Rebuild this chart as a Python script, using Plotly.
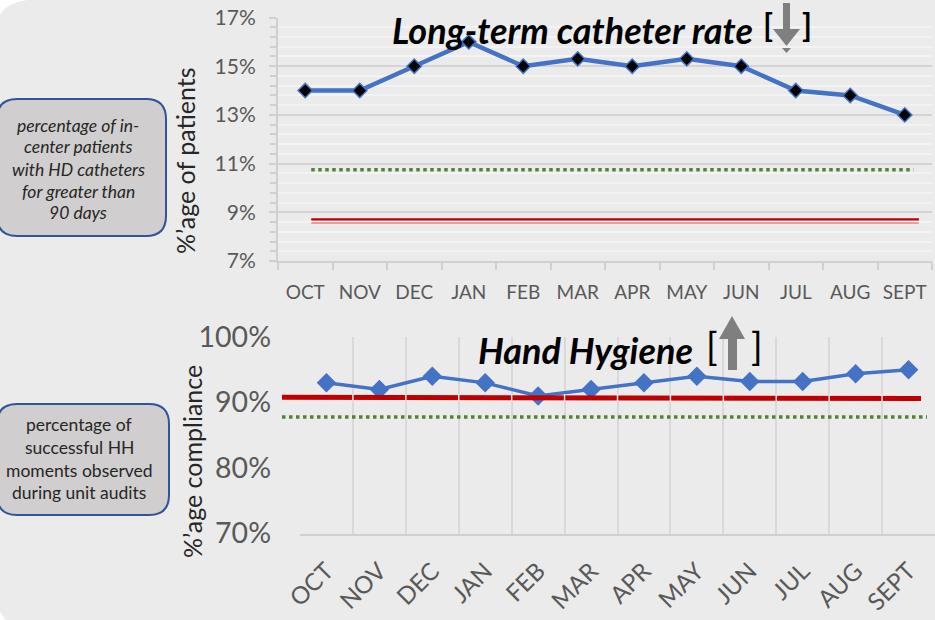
import plotly.graph_objects as go

W, H = 935, 620

# ---------------- data ----------------
months = ["OCT", "NOV", "DEC", "JAN", "FEB", "MAR", "APR", "MAY", "JUN", "JUL", "AUG", "SEPT"]
catheter_rate = [14.0, 14.0, 15.0, 16.0, 15.0, 15.3, 15.0, 15.3, 15.0, 14.0, 13.8, 13.0]
catheter_green_target = 10.75
catheter_red_target = 8.65
hygiene_rate = [93.0, 92.0, 94.0, 93.0, 91.0, 92.0, 93.0, 94.0, 93.2, 93.2, 94.4, 95.0]
hygiene_red_start, hygiene_red_end = 90.8, 90.6
hygiene_green_target = 87.8

top_ticks = [7, 9, 11, 13, 15, 17]
bot_ticks = [70, 80, 90, 100]

BG = "#ebebeb"
BLUE = "#4472c4"
GRAY_TXT = "#595959"
FONT = "Lato"


def px(x):
    return x / W


def py(y):
    return 1 - y / H


def rounded_rect(x0, y0, x1, y1, r):
    X0, X1 = px(x0), px(x1)
    Y0, Y1 = py(y0), py(y1)
    rx, ry = r / W, r / H
    return (f"M {X0+rx},{Y0} L {X1-rx},{Y0} Q {X1},{Y0} {X1},{Y0-ry} "
            f"L {X1},{Y1+ry} Q {X1},{Y1} {X1-rx},{Y1} "
            f"L {X0+rx},{Y1} Q {X0},{Y1} {X0},{Y1+ry} "
            f"L {X0},{Y0-ry} Q {X0},{Y0} {X0+rx},{Y0} Z")


fig = go.Figure()

# top chart
fig.add_trace(go.Scatter(
    x=months, y=catheter_rate, mode="lines+markers", xaxis="x", yaxis="y",
    line=dict(color=BLUE, width=4.5),
    marker=dict(symbol="diamond", size=11, color="black", line=dict(color=BLUE, width=1.5)),
    showlegend=False, hoverinfo="x+y"))

# bottom chart
fig.add_trace(go.Scatter(
    x=months, y=hygiene_rate, mode="lines+markers", xaxis="x2", yaxis="y2",
    line=dict(color=BLUE, width=3.5),
    marker=dict(symbol="diamond", size=15, color=BLUE),
    showlegend=False, hoverinfo="x+y"))

shapes = []
# background corner (white slide corner)
shapes.append(dict(type="path", xref="paper", yref="paper", layer="below",
                   path=f"M 0,1 L {px(27)},1 Q {px(6)},{py(3)} 0,{py(15)} Z",
                   fillcolor="white", line=dict(width=0)))
shapes.append(dict(type="path", xref="paper", yref="paper", layer="below",
                   path=f"M 0,{py(612)} L {px(6)},0 L 0,0 Z",
                   fillcolor="white", line=dict(width=0)))

# top reference lines
shapes.append(dict(type="line", xref="x", yref="y", x0=0.11, x1=11.16,
                   y0=catheter_green_target, y1=catheter_green_target,
                   line=dict(color="#548235", width=3.5, dash="dot")))
shapes.append(dict(type="line", xref="x", yref="y", x0=0.11, x1=11.26,
                   ysizemode="pixel", yanchor=catheter_red_target, y0=1.5, y1=1.5,
                   line=dict(color="#c00000", width=2.2)))
shapes.append(dict(type="line", xref="x", yref="y", x0=0.11, x1=11.26,
                   ysizemode="pixel", yanchor=catheter_red_target, y0=-2.2, y1=-2.2,
                   line=dict(color="#d9534f", width=1)))

# bottom reference lines (extend past plot area to the left)
shapes.append(dict(type="line", xref="paper", yref="y2", x0=px(282), x1=px(921),
                   y0=hygiene_red_start, y1=hygiene_red_end,
                   line=dict(color="#c00000", width=5)))
shapes.append(dict(type="line", xref="paper", yref="y2", x0=px(282), x1=px(927),
                   y0=hygiene_green_target, y1=hygiene_green_target,
                   line=dict(color="#548235", width=3.5, dash="dot")))
# light category separators drawn over the red line (as in the reference)
for i in range(1, 12):
    shapes.append(dict(type="line", xref="x2", yref="y2", x0=i - 0.5, x1=i - 0.5,
                       y0=hygiene_red_start + 0.5, y1=hygiene_red_end - 0.5,
                       line=dict(color="#e4e4e4", width=1.5)))

# left description boxes
shapes.append(dict(type="path", xref="paper", yref="paper", layer="above",
                   path=rounded_rect(-3, 99, 166, 236, 20),
                   fillcolor="#d0cece", line=dict(color="#2f5597", width=2)))
shapes.append(dict(type="path", xref="paper", yref="paper", layer="above",
                   path=rounded_rect(-3, 404, 169, 515, 20),
                   fillcolor="#d0cece", line=dict(color="#2f5597", width=2)))

# top down arrow icon
shapes.append(dict(type="rect", xref="paper", yref="paper",
                   x0=px(783), x1=px(790), y0=py(3), y1=py(29),
                   fillcolor="#7f7f7f", line=dict(width=0)))
shapes.append(dict(type="path", xref="paper", yref="paper",
                   path=f"M {px(773)},{py(29)} L {px(800)},{py(29)} L {px(786.5)},{py(46)} Z",
                   fillcolor="#7f7f7f", line=dict(width=0)))
shapes.append(dict(type="path", xref="paper", yref="paper",
                   path=f"M {px(782)},{py(48)} L {px(791)},{py(48)} L {px(786.5)},{py(53)} Z",
                   fillcolor="#7f7f7f", line=dict(width=0)))

# bottom up arrow icon
shapes.append(dict(type="path", xref="paper", yref="paper",
                   path=f"M {px(732)},{py(316)} L {px(745)},{py(339)} L {px(719)},{py(339)} Z",
                   fillcolor="#7f7f7f", line=dict(width=0)))
shapes.append(dict(type="rect", xref="paper", yref="paper",
                   x0=px(728), x1=px(737), y0=py(339), y1=py(370),
                   fillcolor="#7f7f7f", line=dict(width=0)))

annotations = []


def ann(text, x, y, size, color="#262626", angle=0, bold=False, italic=False, xanchor="center"):
    t = text
    if bold:
        t = f"<b>{t}</b>"
    if italic:
        t = f"<i>{t}</i>"
    annotations.append(dict(text=t, x=px(x), y=py(y), xref="paper", yref="paper",
                            showarrow=False, textangle=angle, xanchor=xanchor, yanchor="middle",
                            font=dict(family=FONT, size=size, color=color)))


ann("Long-term catheter rate", 572, 30, 36, color="black", bold=True, italic=True)
ann("[", 768, 25, 32, color="black", bold=True)
ann("]", 807, 25, 32, color="black", bold=True)
ann("Hand Hygiene", 585, 350, 36, color="black", bold=True, italic=True)
ann("[", 712, 345, 38, color="black")
ann("]", 757, 345, 38, color="black")

ann("%’age of patients", 185, 161, 25, angle=-90)
ann("%’age compliance", 192, 462, 25, angle=-90)

for i, line in enumerate(["percentage of in-", "center patients", "with HD catheters",
                          "for greater than", "90 days"]):
    ann(line, 78, 125 + 22 * i, 17.5, italic=True)
for i, line in enumerate(["percentage of", "successful HH", "moments observed",
                          "during unit audits"]):
    ann(line, 79, 425 + 22.5 * i, 17.5)

fig.update_layout(
    width=W, height=H,
    margin=dict(l=0, r=0, t=0, b=0, pad=0),
    paper_bgcolor=BG, plot_bgcolor=BG,
    font=dict(family=FONT, color=GRAY_TXT),
    shapes=shapes, annotations=annotations,
    xaxis=dict(domain=[px(278), px(932)], anchor="y", type="category", automargin=False,
               categoryorder="array", categoryarray=months,
               range=[-0.5, 11.5], tickson="boundaries", ticks="outside", ticklen=7,
               tickcolor="#d0d0d0", tickwidth=2, ticklabelstandoff=13,
               showline=True, linecolor="#d0d0d0", linewidth=2, showgrid=False,
               tickfont=dict(size=19, color=GRAY_TXT), fixedrange=True),
    yaxis=dict(domain=[py(261), py(17.5)], anchor="x", range=[7, 17], automargin=False,
               tickvals=top_ticks, ticktext=[f"{v}%" for v in top_ticks],
               showline=True, linecolor="#d0d0d0", linewidth=2,
               ticks="outside", ticklen=7, tickcolor="#d0d0d0", tickwidth=2,
               ticklabelstandoff=9,
               showgrid=True, gridcolor="#d4d4d4", gridwidth=2, zeroline=False,
               minor=dict(dtick=0.4, tick0=7, showgrid=True, gridcolor="#f3f3f3", gridwidth=2,
                          ticks="outside", ticklen=6, tickcolor="#d0d0d0", tickwidth=2),
               tickfont=dict(size=21, color=GRAY_TXT), fixedrange=True),
    xaxis2=dict(domain=[px(300), 1.0], anchor="y2", type="category", automargin=False,
                categoryorder="array", categoryarray=months,
                range=[-0.5, 11.5], tickson="boundaries", ticks="", tickangle=-45,
                ticklabelstandoff=12,
                showline=True, linecolor="#d0d0d0", linewidth=2,
                showgrid=True, gridcolor="#d9d9d9", gridwidth=2,
                tickfont=dict(size=24, color=GRAY_TXT), fixedrange=True),
    yaxis2=dict(domain=[py(533.5), py(337)], anchor="x2", range=[70, 100], automargin=False,
                tickvals=bot_ticks, ticktext=[f"{v}%" for v in bot_ticks],
                showline=False, showgrid=False, zeroline=False, ticks="",
                ticklabelstandoff=28,
                tickfont=dict(size=28.5, color=GRAY_TXT), fixedrange=True),
)

fig.write_html("out.html", config={"displayModeBar": False},
               post_script="document.body.style.margin='0';document.body.style.overflow='hidden';")
